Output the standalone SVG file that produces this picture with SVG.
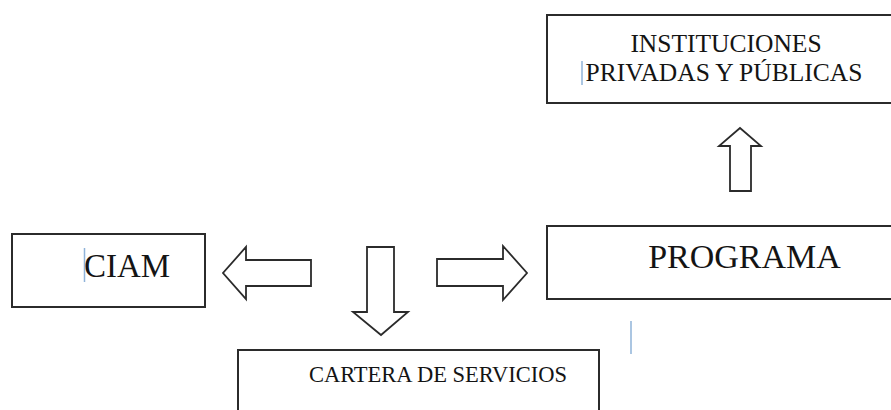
<svg xmlns="http://www.w3.org/2000/svg" width="891" height="410" viewBox="0 0 891 410">
<style>
.box{fill:#fff;stroke:#2b2b2b;stroke-width:2}
.arrow{fill:#fff;stroke:#2b2b2b;stroke-width:1.8;stroke-linejoin:miter}
.t{font-family:"Liberation Serif","Times New Roman",serif;fill:#141414}
.caret{stroke:#8fb3d9;stroke-width:1.5}
</style>
<rect width="891" height="410" fill="#fff"/>
<g id="instituciones">
<rect class="box" x="547" y="15" width="360" height="88"/>
<text class="t" x="726" y="52" font-size="25.5" text-anchor="middle">INSTITUCIONES</text>
<text class="t" x="724" y="81" font-size="25.5" text-anchor="middle">PRIVADAS Y PÚBLICAS</text>
<line class="caret" x1="582" y1="61" x2="582" y2="85"/>
</g>
<g id="ciam">
<rect class="box" x="12" y="234" width="193" height="73"/>
<text class="t" x="84" y="277" font-size="33">CIAM</text>
<line class="caret" x1="84.5" y1="248" x2="84.5" y2="282"/>
</g>
<g id="programa">
<rect class="box" x="547" y="226" width="360" height="73"/>
<text class="t" x="744.5" y="268" font-size="34" text-anchor="middle">PROGRAMA</text>
</g>
<g id="cartera">
<rect class="box" x="238" y="350" width="361" height="80"/>
<text class="t" x="438" y="382" font-size="22.5" text-anchor="middle">CARTERA DE SERVICIOS</text>
</g>
<g id="connectors">
<polygon class="arrow" points="730,191 730,146 719,146 740,128 761,146 751,146 751,191"/>
<polygon class="arrow" points="311,260 246,260 246,247 223,273 246,299 246,286 311,286"/>
<polygon class="arrow" points="367,247 394,247 394,312 408,312 381,335 353,312 367,312"/>
<polygon class="arrow" points="437,259 503,259 503,246 527,273 503,300 503,286 437,286"/>
<line class="caret" x1="631" y1="321" x2="631" y2="354"/>
</g>
</svg>
